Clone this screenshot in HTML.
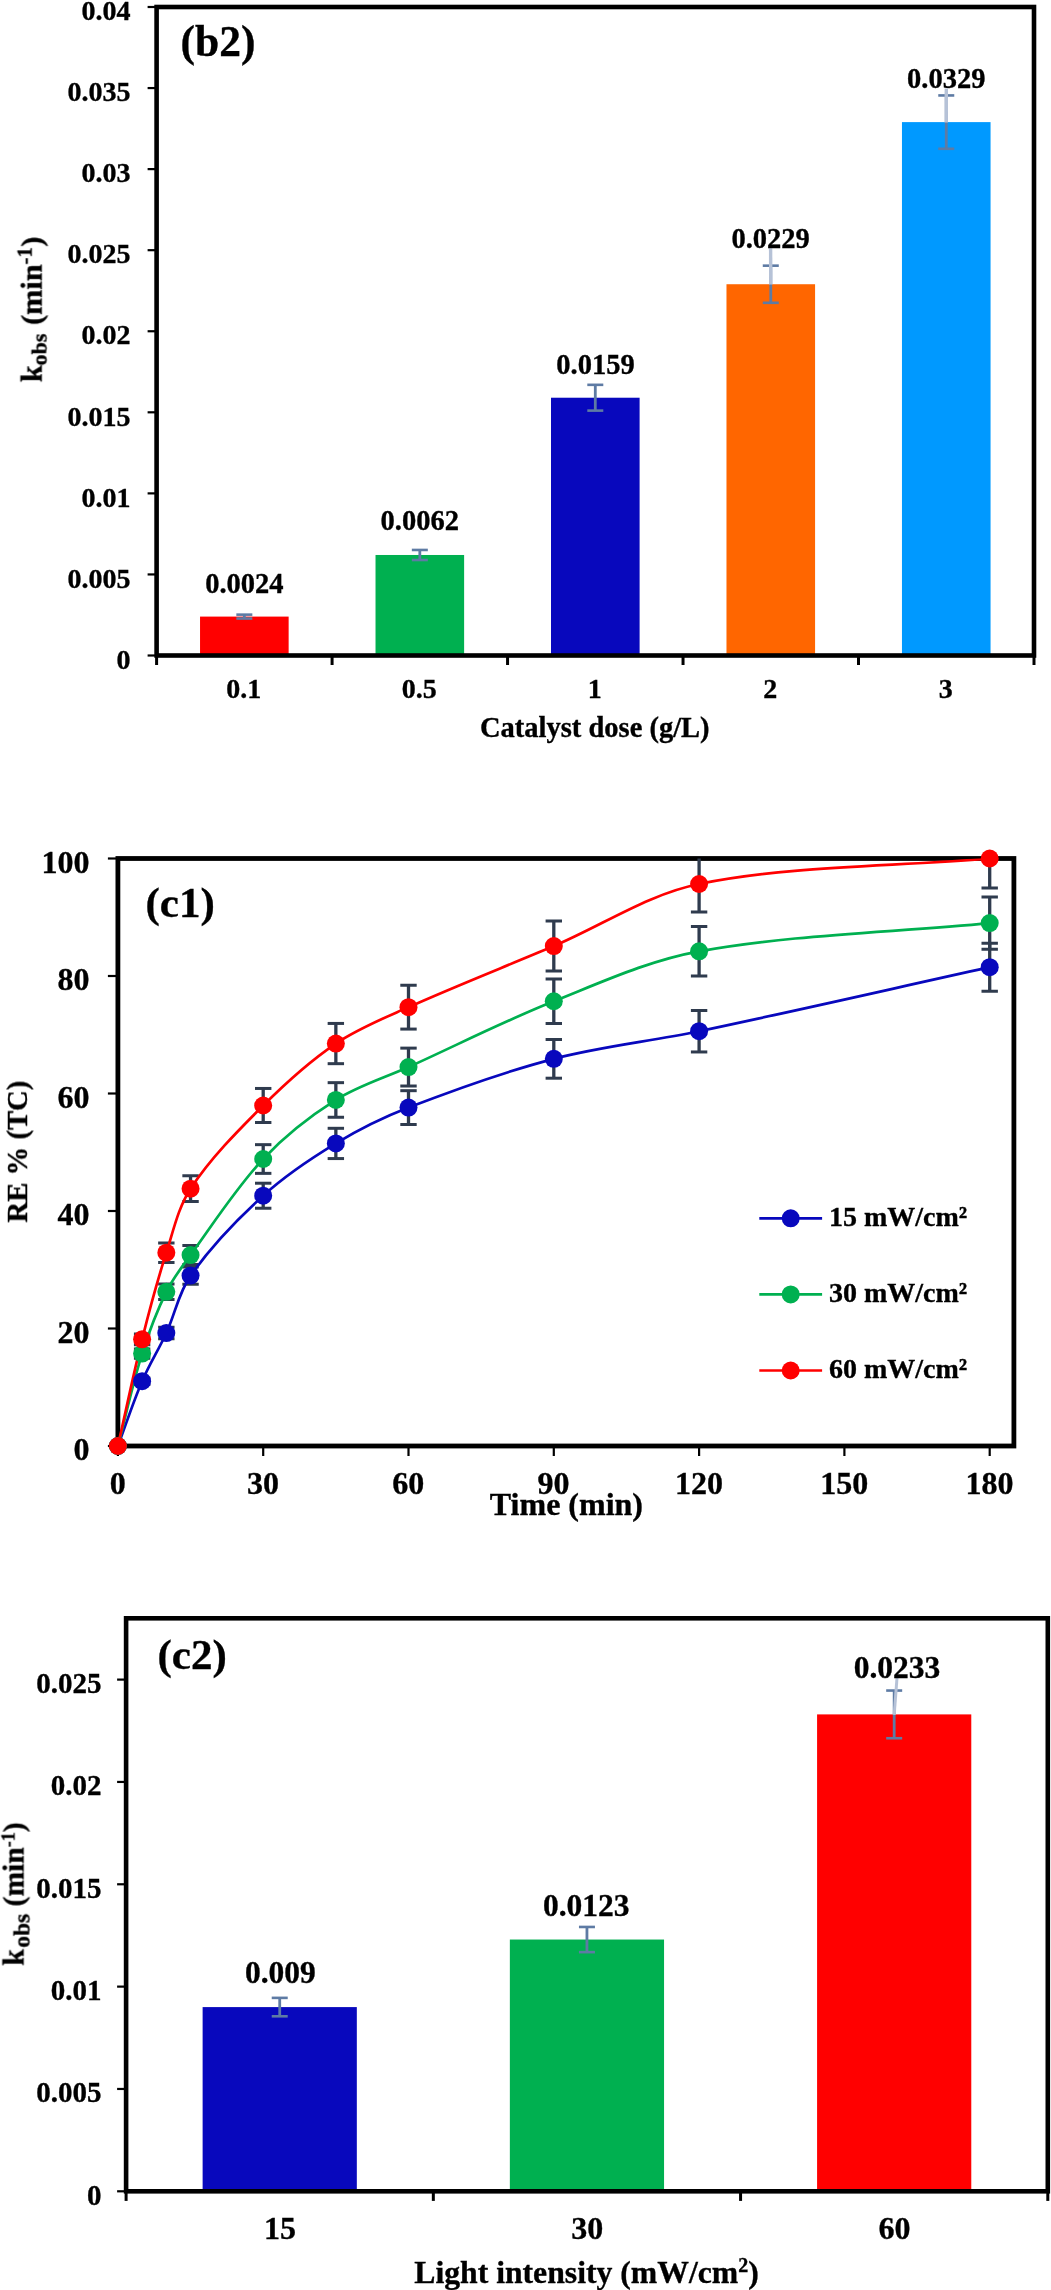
<!DOCTYPE html>
<html><head><meta charset="utf-8"><title>Figure</title>
<style>
html,body{margin:0;padding:0;background:#fff;}
svg{display:block;}
text{font-family:"Liberation Serif",serif;font-weight:bold;fill:#000;stroke:#000;stroke-width:0.35px;filter:url(#gs);}
</style></head>
<body>
<svg width="1051" height="2290" viewBox="0 0 1051 2290">
<rect x="0" y="0" width="1051" height="2290" fill="#fff"/>
<defs><filter id="gs" x="-5%" y="-20%" width="110%" height="140%" color-interpolation-filters="sRGB"><feColorMatrix type="saturate" values="0"/></filter></defs>
<rect x="200.04" y="616.59" width="88.6" height="38.91" fill="#FF0000"/>
<rect x="375.52" y="554.98" width="88.6" height="100.52" fill="#00B050"/>
<rect x="551" y="397.72" width="88.6" height="257.78" fill="#0808BD"/>
<rect x="726.48" y="284.23" width="88.6" height="371.27" fill="#FF6600"/>
<rect x="901.96" y="122.11" width="88.6" height="533.39" fill="#0099FF"/>
<rect x="156.6" y="7" width="877.4" height="648.5" fill="none" stroke="#000" stroke-width="4.6"/>
<line x1="147.6" y1="655.5" x2="156.6" y2="655.5" stroke="#000" stroke-width="2.2"/>
<text x="130.4" y="668.7" font-size="28" text-anchor="end">0</text>
<line x1="147.6" y1="574.44" x2="156.6" y2="574.44" stroke="#000" stroke-width="2.2"/>
<text x="130.4" y="587.64" font-size="28" text-anchor="end">0.005</text>
<line x1="147.6" y1="493.38" x2="156.6" y2="493.38" stroke="#000" stroke-width="2.2"/>
<text x="130.4" y="506.57" font-size="28" text-anchor="end">0.01</text>
<line x1="147.6" y1="412.31" x2="156.6" y2="412.31" stroke="#000" stroke-width="2.2"/>
<text x="130.4" y="425.51" font-size="28" text-anchor="end">0.015</text>
<line x1="147.6" y1="331.25" x2="156.6" y2="331.25" stroke="#000" stroke-width="2.2"/>
<text x="130.4" y="344.45" font-size="28" text-anchor="end">0.02</text>
<line x1="147.6" y1="250.19" x2="156.6" y2="250.19" stroke="#000" stroke-width="2.2"/>
<text x="130.4" y="263.39" font-size="28" text-anchor="end">0.025</text>
<line x1="147.6" y1="169.12" x2="156.6" y2="169.12" stroke="#000" stroke-width="2.2"/>
<text x="130.4" y="182.32" font-size="28" text-anchor="end">0.03</text>
<line x1="147.6" y1="88.06" x2="156.6" y2="88.06" stroke="#000" stroke-width="2.2"/>
<text x="130.4" y="101.26" font-size="28" text-anchor="end">0.035</text>
<line x1="147.6" y1="7" x2="156.6" y2="7" stroke="#000" stroke-width="2.2"/>
<text x="130.4" y="20.2" font-size="28" text-anchor="end">0.04</text>
<line x1="156.6" y1="655.5" x2="156.6" y2="665" stroke="#000" stroke-width="3"/>
<line x1="332.08" y1="655.5" x2="332.08" y2="665" stroke="#000" stroke-width="3"/>
<line x1="507.56" y1="655.5" x2="507.56" y2="665" stroke="#000" stroke-width="3"/>
<line x1="683.04" y1="655.5" x2="683.04" y2="665" stroke="#000" stroke-width="3"/>
<line x1="858.52" y1="655.5" x2="858.52" y2="665" stroke="#000" stroke-width="3"/>
<line x1="1034" y1="655.5" x2="1034" y2="665" stroke="#000" stroke-width="3"/>
<text x="243.84" y="698" font-size="28" text-anchor="middle">0.1</text>
<text x="419.32" y="698" font-size="28" text-anchor="middle">0.5</text>
<text x="594.8" y="698" font-size="28" text-anchor="middle">1</text>
<text x="770.28" y="698" font-size="28" text-anchor="middle">2</text>
<text x="945.76" y="698" font-size="28" text-anchor="middle">3</text>
<line x1="244.34" y1="614.64" x2="244.34" y2="618.54" stroke="#5E7BA4" stroke-width="2.8"/>
<line x1="236.34" y1="614.64" x2="252.34" y2="614.64" stroke="#5E7BA4" stroke-width="2.6"/>
<line x1="236.34" y1="618.54" x2="252.34" y2="618.54" stroke="#5E7BA4" stroke-width="2.6"/>
<text x="244.4" y="593" font-size="28.5" text-anchor="middle">0.0024</text>
<line x1="419.82" y1="549.96" x2="419.82" y2="560.01" stroke="#5E7BA4" stroke-width="2.8"/>
<line x1="411.82" y1="549.96" x2="427.82" y2="549.96" stroke="#5E7BA4" stroke-width="2.6"/>
<line x1="411.82" y1="560.01" x2="427.82" y2="560.01" stroke="#5E7BA4" stroke-width="2.6"/>
<text x="419.7" y="530.4" font-size="28.5" text-anchor="middle">0.0062</text>
<line x1="595.3" y1="384.83" x2="595.3" y2="410.61" stroke="#5E7BA4" stroke-width="2.8"/>
<line x1="587.3" y1="384.83" x2="603.3" y2="384.83" stroke="#5E7BA4" stroke-width="2.6"/>
<line x1="587.3" y1="410.61" x2="603.3" y2="410.61" stroke="#5E7BA4" stroke-width="2.6"/>
<text x="595.5" y="374" font-size="28.5" text-anchor="middle">0.0159</text>
<line x1="770.78" y1="265.67" x2="770.78" y2="302.8" stroke="#5E7BA4" stroke-width="2.8"/>
<line x1="762.78" y1="265.67" x2="778.78" y2="265.67" stroke="#5E7BA4" stroke-width="2.6"/>
<line x1="762.78" y1="302.8" x2="778.78" y2="302.8" stroke="#5E7BA4" stroke-width="2.6"/>
<line x1="770.6" y1="248.3" x2="770.78" y2="284.53" stroke="#B6C2D7" stroke-width="3.4"/>
<text x="770.6" y="247.8" font-size="28.5" text-anchor="middle">0.0229</text>
<line x1="946.26" y1="95.44" x2="946.26" y2="148.78" stroke="#5E7BA4" stroke-width="2.8"/>
<line x1="938.26" y1="95.44" x2="954.26" y2="95.44" stroke="#5E7BA4" stroke-width="2.6"/>
<line x1="938.26" y1="148.78" x2="954.26" y2="148.78" stroke="#5E7BA4" stroke-width="2.6"/>
<line x1="946.3" y1="88.6" x2="946.26" y2="122.41" stroke="#B6C2D7" stroke-width="3.4"/>
<text x="946.3" y="88.1" font-size="28.5" text-anchor="middle">0.0329</text>
<text x="180.6" y="56.3" font-size="43.5" text-anchor="start">(b2)</text>
<text x="594.8" y="737.1" font-size="28.5" text-anchor="middle">Catalyst dose (g/L)</text>
<g transform="translate(41.6,382.2) rotate(-90)">
<text x="0" y="0" font-size="30.3" text-anchor="start">k<tspan font-size="22" dy="4.8">obs</tspan><tspan dy="-4.8" dx="1"> (min</tspan><tspan font-size="20.5" dy="-9.6">-1</tspan><tspan dy="9.6" dx="0.5">)</tspan></text>
</g>
<clipPath id="c1clip"><rect x="105.9" y="858.5" width="908" height="599.5"/></clipPath>
<rect x="117.9" y="858.5" width="896" height="587.5" fill="none" stroke="#000" stroke-width="4.8"/>
<line x1="107.9" y1="1446" x2="117.9" y2="1446" stroke="#000" stroke-width="2.2"/>
<text x="89.6" y="1460.2" font-size="32" text-anchor="end">0</text>
<line x1="107.9" y1="1328.5" x2="117.9" y2="1328.5" stroke="#000" stroke-width="2.2"/>
<text x="89.6" y="1342.7" font-size="32" text-anchor="end">20</text>
<line x1="107.9" y1="1211" x2="117.9" y2="1211" stroke="#000" stroke-width="2.2"/>
<text x="89.6" y="1225.2" font-size="32" text-anchor="end">40</text>
<line x1="107.9" y1="1093.5" x2="117.9" y2="1093.5" stroke="#000" stroke-width="2.2"/>
<text x="89.6" y="1107.7" font-size="32" text-anchor="end">60</text>
<line x1="107.9" y1="976" x2="117.9" y2="976" stroke="#000" stroke-width="2.2"/>
<text x="89.6" y="990.2" font-size="32" text-anchor="end">80</text>
<line x1="107.9" y1="858.5" x2="117.9" y2="858.5" stroke="#000" stroke-width="2.2"/>
<text x="89.6" y="872.7" font-size="32" text-anchor="end">100</text>
<line x1="117.9" y1="1446" x2="117.9" y2="1456" stroke="#000" stroke-width="2.2"/>
<text x="117.7" y="1493.8" font-size="32" text-anchor="middle">0</text>
<line x1="263.2" y1="1446" x2="263.2" y2="1456" stroke="#000" stroke-width="2.2"/>
<text x="263" y="1493.8" font-size="32" text-anchor="middle">30</text>
<line x1="408.5" y1="1446" x2="408.5" y2="1456" stroke="#000" stroke-width="2.2"/>
<text x="408.3" y="1493.8" font-size="32" text-anchor="middle">60</text>
<line x1="553.8" y1="1446" x2="553.8" y2="1456" stroke="#000" stroke-width="2.2"/>
<text x="553.6" y="1493.8" font-size="32" text-anchor="middle">90</text>
<line x1="699.1" y1="1446" x2="699.1" y2="1456" stroke="#000" stroke-width="2.2"/>
<text x="698.9" y="1493.8" font-size="32" text-anchor="middle">120</text>
<line x1="844.4" y1="1446" x2="844.4" y2="1456" stroke="#000" stroke-width="2.2"/>
<text x="844.2" y="1493.8" font-size="32" text-anchor="middle">150</text>
<line x1="989.7" y1="1446" x2="989.7" y2="1456" stroke="#000" stroke-width="2.2"/>
<text x="989.5" y="1493.8" font-size="32" text-anchor="middle">180</text>
<g clip-path="url(#c1clip)">
<line x1="142.12" y1="1377.96" x2="142.12" y2="1384.44" stroke="#2F3B4E" stroke-width="3.3"/>
<line x1="133.92" y1="1377.96" x2="150.32" y2="1377.96" stroke="#2F3B4E" stroke-width="3"/>
<line x1="133.92" y1="1384.44" x2="150.32" y2="1384.44" stroke="#2F3B4E" stroke-width="3"/>
<line x1="166.33" y1="1327.37" x2="166.33" y2="1338.67" stroke="#2F3B4E" stroke-width="3.3"/>
<line x1="158.13" y1="1327.37" x2="174.53" y2="1327.37" stroke="#2F3B4E" stroke-width="3"/>
<line x1="158.13" y1="1338.67" x2="174.53" y2="1338.67" stroke="#2F3B4E" stroke-width="3"/>
<line x1="190.55" y1="1267.11" x2="190.55" y2="1284.14" stroke="#2F3B4E" stroke-width="3.3"/>
<line x1="182.35" y1="1267.11" x2="198.75" y2="1267.11" stroke="#2F3B4E" stroke-width="3"/>
<line x1="182.35" y1="1284.14" x2="198.75" y2="1284.14" stroke="#2F3B4E" stroke-width="3"/>
<line x1="263.2" y1="1183.21" x2="263.2" y2="1208.24" stroke="#2F3B4E" stroke-width="3.3"/>
<line x1="255" y1="1183.21" x2="271.4" y2="1183.21" stroke="#2F3B4E" stroke-width="3"/>
<line x1="255" y1="1208.24" x2="271.4" y2="1208.24" stroke="#2F3B4E" stroke-width="3"/>
<line x1="335.85" y1="1128.31" x2="335.85" y2="1158.57" stroke="#2F3B4E" stroke-width="3.3"/>
<line x1="327.65" y1="1128.31" x2="344.05" y2="1128.31" stroke="#2F3B4E" stroke-width="3"/>
<line x1="327.65" y1="1158.57" x2="344.05" y2="1158.57" stroke="#2F3B4E" stroke-width="3"/>
<line x1="408.5" y1="1090.68" x2="408.5" y2="1124.52" stroke="#2F3B4E" stroke-width="3.3"/>
<line x1="400.3" y1="1090.68" x2="416.7" y2="1090.68" stroke="#2F3B4E" stroke-width="3"/>
<line x1="400.3" y1="1124.52" x2="416.7" y2="1124.52" stroke="#2F3B4E" stroke-width="3"/>
<line x1="553.8" y1="1039.48" x2="553.8" y2="1078.2" stroke="#2F3B4E" stroke-width="3.3"/>
<line x1="545.6" y1="1039.48" x2="562" y2="1039.48" stroke="#2F3B4E" stroke-width="3"/>
<line x1="545.6" y1="1078.2" x2="562" y2="1078.2" stroke="#2F3B4E" stroke-width="3"/>
<line x1="699.1" y1="1010.49" x2="699.1" y2="1051.96" stroke="#2F3B4E" stroke-width="3.3"/>
<line x1="690.9" y1="1010.49" x2="707.3" y2="1010.49" stroke="#2F3B4E" stroke-width="3"/>
<line x1="690.9" y1="1051.96" x2="707.3" y2="1051.96" stroke="#2F3B4E" stroke-width="3"/>
<line x1="989.7" y1="943.25" x2="989.7" y2="991.13" stroke="#2F3B4E" stroke-width="3.3"/>
<line x1="981.5" y1="943.25" x2="997.9" y2="943.25" stroke="#2F3B4E" stroke-width="3"/>
<line x1="981.5" y1="991.13" x2="997.9" y2="991.13" stroke="#2F3B4E" stroke-width="3"/>
<line x1="142.12" y1="1348.97" x2="142.12" y2="1358.21" stroke="#2F3B4E" stroke-width="3.3"/>
<line x1="133.92" y1="1348.97" x2="150.32" y2="1348.97" stroke="#2F3B4E" stroke-width="3"/>
<line x1="133.92" y1="1358.21" x2="150.32" y2="1358.21" stroke="#2F3B4E" stroke-width="3"/>
<line x1="166.33" y1="1284.07" x2="166.33" y2="1299.49" stroke="#2F3B4E" stroke-width="3.3"/>
<line x1="158.13" y1="1284.07" x2="174.53" y2="1284.07" stroke="#2F3B4E" stroke-width="3"/>
<line x1="158.13" y1="1299.49" x2="174.53" y2="1299.49" stroke="#2F3B4E" stroke-width="3"/>
<line x1="190.55" y1="1245.52" x2="190.55" y2="1264.61" stroke="#2F3B4E" stroke-width="3.3"/>
<line x1="182.35" y1="1245.52" x2="198.75" y2="1245.52" stroke="#2F3B4E" stroke-width="3"/>
<line x1="182.35" y1="1264.61" x2="198.75" y2="1264.61" stroke="#2F3B4E" stroke-width="3"/>
<line x1="263.2" y1="1144.66" x2="263.2" y2="1173.36" stroke="#2F3B4E" stroke-width="3.3"/>
<line x1="255" y1="1144.66" x2="271.4" y2="1144.66" stroke="#2F3B4E" stroke-width="3"/>
<line x1="255" y1="1173.36" x2="271.4" y2="1173.36" stroke="#2F3B4E" stroke-width="3"/>
<line x1="335.85" y1="1082.66" x2="335.85" y2="1117.26" stroke="#2F3B4E" stroke-width="3.3"/>
<line x1="327.65" y1="1082.66" x2="344.05" y2="1082.66" stroke="#2F3B4E" stroke-width="3"/>
<line x1="327.65" y1="1117.26" x2="344.05" y2="1117.26" stroke="#2F3B4E" stroke-width="3"/>
<line x1="408.5" y1="1048.12" x2="408.5" y2="1086.01" stroke="#2F3B4E" stroke-width="3.3"/>
<line x1="400.3" y1="1048.12" x2="416.7" y2="1048.12" stroke="#2F3B4E" stroke-width="3"/>
<line x1="400.3" y1="1086.01" x2="416.7" y2="1086.01" stroke="#2F3B4E" stroke-width="3"/>
<line x1="553.8" y1="979.03" x2="553.8" y2="1023.5" stroke="#2F3B4E" stroke-width="3.3"/>
<line x1="545.6" y1="979.03" x2="562" y2="979.03" stroke="#2F3B4E" stroke-width="3"/>
<line x1="545.6" y1="1023.5" x2="562" y2="1023.5" stroke="#2F3B4E" stroke-width="3"/>
<line x1="699.1" y1="926.59" x2="699.1" y2="976.06" stroke="#2F3B4E" stroke-width="3.3"/>
<line x1="690.9" y1="926.59" x2="707.3" y2="926.59" stroke="#2F3B4E" stroke-width="3"/>
<line x1="690.9" y1="976.06" x2="707.3" y2="976.06" stroke="#2F3B4E" stroke-width="3"/>
<line x1="989.7" y1="896.98" x2="989.7" y2="949.27" stroke="#2F3B4E" stroke-width="3.3"/>
<line x1="981.5" y1="896.98" x2="997.9" y2="896.98" stroke="#2F3B4E" stroke-width="3"/>
<line x1="981.5" y1="949.27" x2="997.9" y2="949.27" stroke="#2F3B4E" stroke-width="3"/>
<line x1="142.12" y1="1333.98" x2="142.12" y2="1344.64" stroke="#2F3B4E" stroke-width="3.3"/>
<line x1="133.92" y1="1333.98" x2="150.32" y2="1333.98" stroke="#2F3B4E" stroke-width="3"/>
<line x1="133.92" y1="1344.64" x2="150.32" y2="1344.64" stroke="#2F3B4E" stroke-width="3"/>
<line x1="166.33" y1="1243.05" x2="166.33" y2="1262.38" stroke="#2F3B4E" stroke-width="3.3"/>
<line x1="158.13" y1="1243.05" x2="174.53" y2="1243.05" stroke="#2F3B4E" stroke-width="3"/>
<line x1="158.13" y1="1262.38" x2="174.53" y2="1262.38" stroke="#2F3B4E" stroke-width="3"/>
<line x1="190.55" y1="1175.81" x2="190.55" y2="1201.54" stroke="#2F3B4E" stroke-width="3.3"/>
<line x1="182.35" y1="1175.81" x2="198.75" y2="1175.81" stroke="#2F3B4E" stroke-width="3"/>
<line x1="182.35" y1="1201.54" x2="198.75" y2="1201.54" stroke="#2F3B4E" stroke-width="3"/>
<line x1="263.2" y1="1088.46" x2="263.2" y2="1122.51" stroke="#2F3B4E" stroke-width="3.3"/>
<line x1="255" y1="1088.46" x2="271.4" y2="1088.46" stroke="#2F3B4E" stroke-width="3"/>
<line x1="255" y1="1122.51" x2="271.4" y2="1122.51" stroke="#2F3B4E" stroke-width="3"/>
<line x1="335.85" y1="1023.44" x2="335.85" y2="1063.68" stroke="#2F3B4E" stroke-width="3.3"/>
<line x1="327.65" y1="1023.44" x2="344.05" y2="1023.44" stroke="#2F3B4E" stroke-width="3"/>
<line x1="327.65" y1="1063.68" x2="344.05" y2="1063.68" stroke="#2F3B4E" stroke-width="3"/>
<line x1="408.5" y1="985.19" x2="408.5" y2="1029.08" stroke="#2F3B4E" stroke-width="3.3"/>
<line x1="400.3" y1="985.19" x2="416.7" y2="985.19" stroke="#2F3B4E" stroke-width="3"/>
<line x1="400.3" y1="1029.08" x2="416.7" y2="1029.08" stroke="#2F3B4E" stroke-width="3"/>
<line x1="553.8" y1="921.04" x2="553.8" y2="971.04" stroke="#2F3B4E" stroke-width="3.3"/>
<line x1="545.6" y1="921.04" x2="562" y2="921.04" stroke="#2F3B4E" stroke-width="3"/>
<line x1="545.6" y1="971.04" x2="562" y2="971.04" stroke="#2F3B4E" stroke-width="3"/>
<line x1="699.1" y1="855.9" x2="699.1" y2="912.1" stroke="#2F3B4E" stroke-width="3.3"/>
<line x1="690.9" y1="912.1" x2="707.3" y2="912.1" stroke="#2F3B4E" stroke-width="3"/>
<line x1="989.7" y1="829.12" x2="989.7" y2="887.88" stroke="#2F3B4E" stroke-width="3.3"/>
<line x1="981.5" y1="887.88" x2="997.9" y2="887.88" stroke="#2F3B4E" stroke-width="3"/>
<path d="M117.9 1446 C125.97 1424.4 133.04 1402.36 142.12 1381.2 C149.19 1364.7 158.84 1349.35 166.33 1333.02 C174.99 1314.16 178.74 1292.37 190.55 1275.62 C211.03 1246.6 236.72 1219.82 263.2 1195.72 C285.15 1175.76 310.43 1158.86 335.85 1143.44 C358.86 1129.48 383.38 1117.35 408.5 1107.6 C456.03 1089.15 504.5 1071.79 553.8 1058.84 C601.37 1046.34 650.86 1041.37 699.1 1031.22 C796.16 1010.82 892.83 988.53 989.7 967.19" fill="none" stroke="#0808BD" stroke-width="2.7" stroke-linejoin="round"/>
<path d="M117.9 1446 C125.97 1415.2 132.59 1383.92 142.12 1353.59 C148.74 1332.51 156.62 1311.53 166.33 1291.78 C172.77 1278.69 181.91 1266.9 190.55 1255.06 C214.2 1222.64 235.95 1188.09 263.2 1159.01 C284.38 1136.39 309.7 1116.51 335.85 1099.96 C358.13 1085.86 384.28 1078.03 408.5 1067.06 C456.93 1045.13 504.46 1020.91 553.8 1001.26 C601.33 982.33 649 960.31 699.1 951.32 C794.3 934.26 892.83 932.52 989.7 923.12" fill="none" stroke="#00B050" stroke-width="2.7" stroke-linejoin="round"/>
<path d="M117.9 1446 C125.97 1410.44 133.26 1374.67 142.12 1339.31 C149.4 1310.24 157.17 1281.22 166.33 1252.71 C173.31 1231.01 178.19 1207.45 190.55 1188.67 C210.48 1158.38 237.22 1131.43 263.2 1105.49 C285.65 1083.06 309.69 1061.27 335.85 1043.56 C358.12 1028.49 383.79 1018.2 408.5 1007.14 C456.44 985.69 505.42 966.54 553.8 946.04 C602.29 925.49 648.05 894.25 699.1 884 C793.35 865.07 892.83 867 989.7 858.5" fill="none" stroke="#FF0000" stroke-width="2.7" stroke-linejoin="round"/>
</g>
<circle cx="117.9" cy="1446" r="9" fill="#0808BD"/>
<circle cx="142.12" cy="1381.2" r="9" fill="#0808BD"/>
<circle cx="166.33" cy="1333.02" r="9" fill="#0808BD"/>
<circle cx="190.55" cy="1275.62" r="9" fill="#0808BD"/>
<circle cx="263.2" cy="1195.72" r="9" fill="#0808BD"/>
<circle cx="335.85" cy="1143.44" r="9" fill="#0808BD"/>
<circle cx="408.5" cy="1107.6" r="9" fill="#0808BD"/>
<circle cx="553.8" cy="1058.84" r="9" fill="#0808BD"/>
<circle cx="699.1" cy="1031.22" r="9" fill="#0808BD"/>
<circle cx="989.7" cy="967.19" r="9" fill="#0808BD"/>
<circle cx="117.9" cy="1446" r="9" fill="#00B050"/>
<circle cx="142.12" cy="1353.59" r="9" fill="#00B050"/>
<circle cx="166.33" cy="1291.78" r="9" fill="#00B050"/>
<circle cx="190.55" cy="1255.06" r="9" fill="#00B050"/>
<circle cx="263.2" cy="1159.01" r="9" fill="#00B050"/>
<circle cx="335.85" cy="1099.96" r="9" fill="#00B050"/>
<circle cx="408.5" cy="1067.06" r="9" fill="#00B050"/>
<circle cx="553.8" cy="1001.26" r="9" fill="#00B050"/>
<circle cx="699.1" cy="951.32" r="9" fill="#00B050"/>
<circle cx="989.7" cy="923.12" r="9" fill="#00B050"/>
<circle cx="117.9" cy="1446" r="9" fill="#FF0000"/>
<circle cx="142.12" cy="1339.31" r="9" fill="#FF0000"/>
<circle cx="166.33" cy="1252.71" r="9" fill="#FF0000"/>
<circle cx="190.55" cy="1188.67" r="9" fill="#FF0000"/>
<circle cx="263.2" cy="1105.49" r="9" fill="#FF0000"/>
<circle cx="335.85" cy="1043.56" r="9" fill="#FF0000"/>
<circle cx="408.5" cy="1007.14" r="9" fill="#FF0000"/>
<circle cx="553.8" cy="946.04" r="9" fill="#FF0000"/>
<circle cx="699.1" cy="884" r="9" fill="#FF0000"/>
<circle cx="989.7" cy="858.5" r="9" fill="#FF0000"/>
<line x1="759.3" y1="1218.3" x2="822.1" y2="1218.3" stroke="#0808BD" stroke-width="2.7"/>
<circle cx="790.7" cy="1218.3" r="9" fill="#0808BD"/>
<text x="829" y="1225.9" font-size="28" text-anchor="start">15 mW/cm²</text>
<line x1="759.3" y1="1294.4" x2="822.1" y2="1294.4" stroke="#00B050" stroke-width="2.7"/>
<circle cx="790.7" cy="1294.4" r="9" fill="#00B050"/>
<text x="829" y="1302" font-size="28" text-anchor="start">30 mW/cm²</text>
<line x1="759.3" y1="1370.5" x2="822.1" y2="1370.5" stroke="#FF0000" stroke-width="2.7"/>
<circle cx="790.7" cy="1370.5" r="9" fill="#FF0000"/>
<text x="829" y="1378.1" font-size="28" text-anchor="start">60 mW/cm²</text>
<text x="145.5" y="917" font-size="43" text-anchor="start">(c1)</text>
<text x="566.4" y="1514.7" font-size="32" text-anchor="middle">Time (min)</text>
<g transform="translate(27,1222.5) rotate(-90)">
<text x="0" y="0" font-size="28.7" text-anchor="start">RE % (TC)</text>
</g>
<rect x="202.62" y="2007.09" width="154.2" height="184.21" fill="#0808BD"/>
<rect x="509.85" y="1939.54" width="154.2" height="251.76" fill="#00B050"/>
<rect x="817.08" y="1714.4" width="154.2" height="476.9" fill="#FF0000"/>
<rect x="126.1" y="1618.3" width="921.7" height="573" fill="none" stroke="#000" stroke-width="4.6"/>
<line x1="117.1" y1="2191.3" x2="126.1" y2="2191.3" stroke="#000" stroke-width="2.2"/>
<text x="101.4" y="2204.6" font-size="29" text-anchor="end">0</text>
<line x1="117.1" y1="2088.96" x2="126.1" y2="2088.96" stroke="#000" stroke-width="2.2"/>
<text x="101.4" y="2102.26" font-size="29" text-anchor="end">0.005</text>
<line x1="117.1" y1="1986.62" x2="126.1" y2="1986.62" stroke="#000" stroke-width="2.2"/>
<text x="101.4" y="1999.92" font-size="29" text-anchor="end">0.01</text>
<line x1="117.1" y1="1884.28" x2="126.1" y2="1884.28" stroke="#000" stroke-width="2.2"/>
<text x="101.4" y="1897.58" font-size="29" text-anchor="end">0.015</text>
<line x1="117.1" y1="1781.94" x2="126.1" y2="1781.94" stroke="#000" stroke-width="2.2"/>
<text x="101.4" y="1795.24" font-size="29" text-anchor="end">0.02</text>
<line x1="117.1" y1="1679.6" x2="126.1" y2="1679.6" stroke="#000" stroke-width="2.2"/>
<text x="101.4" y="1692.9" font-size="29" text-anchor="end">0.025</text>
<line x1="126.1" y1="2191.3" x2="126.1" y2="2200.9" stroke="#000" stroke-width="3"/>
<line x1="433.33" y1="2191.3" x2="433.33" y2="2200.9" stroke="#000" stroke-width="3"/>
<line x1="740.57" y1="2191.3" x2="740.57" y2="2200.9" stroke="#000" stroke-width="3"/>
<line x1="1047.8" y1="2191.3" x2="1047.8" y2="2200.9" stroke="#000" stroke-width="3"/>
<text x="279.92" y="2238.9" font-size="32" text-anchor="middle">15</text>
<text x="587.15" y="2238.9" font-size="32" text-anchor="middle">30</text>
<text x="894.38" y="2238.9" font-size="32" text-anchor="middle">60</text>
<line x1="279.72" y1="1997.88" x2="279.72" y2="2016.3" stroke="#5E7BA4" stroke-width="2.8"/>
<line x1="271.72" y1="1997.88" x2="287.72" y2="1997.88" stroke="#5E7BA4" stroke-width="2.6"/>
<line x1="271.72" y1="2016.3" x2="287.72" y2="2016.3" stroke="#5E7BA4" stroke-width="2.6"/>
<text x="280.4" y="1982.6" font-size="31.5" text-anchor="middle">0.009</text>
<line x1="586.95" y1="1926.96" x2="586.95" y2="1952.13" stroke="#5E7BA4" stroke-width="2.8"/>
<line x1="578.95" y1="1926.96" x2="594.95" y2="1926.96" stroke="#5E7BA4" stroke-width="2.6"/>
<line x1="578.95" y1="1952.13" x2="594.95" y2="1952.13" stroke="#5E7BA4" stroke-width="2.6"/>
<text x="586.3" y="1916.4" font-size="31.5" text-anchor="middle">0.0123</text>
<line x1="894.18" y1="1690.55" x2="894.18" y2="1738.24" stroke="#5E7BA4" stroke-width="2.8"/>
<line x1="886.18" y1="1690.55" x2="902.18" y2="1690.55" stroke="#5E7BA4" stroke-width="2.6"/>
<line x1="886.18" y1="1738.24" x2="902.18" y2="1738.24" stroke="#5E7BA4" stroke-width="2.6"/>
<line x1="897" y1="1677.9" x2="894.18" y2="1714.9" stroke="#B6C2D7" stroke-width="3"/>
<text x="897" y="1677.6" font-size="31.5" text-anchor="middle">0.0233</text>
<text x="157.5" y="1668.8" font-size="43" text-anchor="start">(c2)</text>
<text x="586.5" y="2282.7" font-size="31.7" text-anchor="middle">Light intensity (mW/cm<tspan font-size="20" dy="-11">2</tspan><tspan dy="11">)</tspan></text>
<g transform="translate(23.5,1965.7) rotate(-90)">
<text x="0" y="0" font-size="29.6" text-anchor="start">k<tspan font-size="23.5" dy="5.8" dx="1.5">obs</tspan><tspan dy="-5.8"> (min</tspan><tspan font-size="18" dy="-9.3">-1</tspan><tspan dy="9.3">)</tspan></text>
</g>
</svg>
</body></html>
